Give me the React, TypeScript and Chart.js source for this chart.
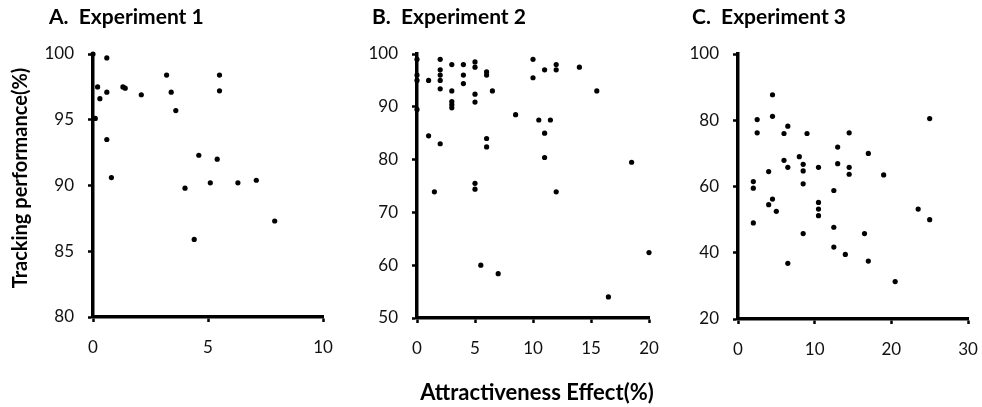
import React, { useEffect, useRef } from 'react';
import { Chart, registerables } from 'chart.js';
Chart.register(...registerables);

// ---- Data ----
const exp1X = [0, 0.6, 0.2, 0.3, 0.6, 0.1, 0.6, 0.8, 1.3, 1.4, 2.1, 3.2, 3.4, 3.6, 5.5, 5.5, 4.6, 5.4, 4.0, 5.1, 6.3, 7.1, 4.4, 7.9];
const exp1Y = [100, 99.7, 97.5, 96.6, 97.1, 95.1, 93.5, 90.6, 97.5, 97.4, 96.9, 98.4, 97.1, 95.7, 98.4, 97.2, 92.3, 92.0, 89.8, 90.2, 90.2, 90.4, 85.9, 87.3];

const exp2X = [0, 0, 0, 0, 1, 1, 1.5, 2, 2, 2, 2, 2, 2, 3, 3, 3, 3, 3, 4, 4, 4, 5, 5, 5, 5, 5, 5, 6, 6, 6, 6, 6.5, 8.5, 10, 10, 11, 10.5, 11, 11, 11.5, 12, 12, 12, 14, 15.5, 18.5, 5.5, 7, 16.5, 20];
const exp2Y = [99, 96, 95, 89.5, 95, 84.5, 73.9, 99, 97, 96, 95, 93.4, 83, 98, 93, 91, 90.4, 89.8, 98, 96, 94.4, 98.5, 97.5, 92.4, 90.9, 75.5, 74.4, 96.6, 96, 84, 82.4, 93, 88.5, 99, 95.5, 97, 87.5, 85, 80.4, 87.5, 98, 97, 73.9, 97.5, 93, 79.5, 60, 58.4, 54, 62.4];

const exp3X = [4.5, 4.5, 2.5, 2.5, 6.5, 6, 9, 14.5, 13, 17, 6, 8, 6.5, 8.5, 8.5, 10.5, 13, 14.5, 14.5, 19, 4, 2, 2, 8.5, 12.5, 25, 4, 4.5, 5, 2, 10.5, 10.5, 10.5, 8.5, 12.5, 12.5, 14, 16.5, 17, 6.5, 20.5, 23.5, 25];
const exp3Y = [87.7, 81.2, 80.2, 76.2, 78.2, 76, 76, 76.2, 71.9, 70, 67.9, 69, 65.8, 66.7, 64.7, 65.8, 66.9, 65.8, 63.7, 63.5, 64.5, 61.5, 59.5, 60.8, 58.8, 80.5, 54.5, 56.2, 52.5, 49, 55.2, 53.2, 51.2, 45.8, 47.7, 41.7, 39.5, 45.8, 37.5, 36.8, 31.3, 53.2, 50];

const panelTitles = ['A.  Experiment 1', 'B.  Experiment 2', 'C.  Experiment 3'];
const xRanges = [[0, 10, 5], [0, 20, 5], [0, 30, 10]];
const yRanges = [[80, 100, 5], [50, 100, 10], [20, 100, 20]];
const yAxisTitle = 'Tracking performance(%)';
const xAxisTitle = 'Attractiveness Effect(%)';

const H = 407;
const FONT = 'Lato, "Open Sans", sans-serif';

type PanelProps = {
  xs: number[]; ys: number[]; xr: number[]; yr: number[]; title: string;
  left: number; width: number; plotLeft: number; plotRight: number; plotBottom: number;
  titleX: number; yTitle?: string; yTitleX?: number; yTitleY?: number;
  xTitle?: string; xTitleX?: number; xTitleY?: number;
};

function Panel(p: PanelProps) {
  const ref = useRef<HTMLCanvasElement>(null);
  useEffect(() => {
    if (!ref.current) return;
    const textPlugin = {
      id: 'panelTexts',
      afterDraw(chart: any) {
        const ctx = chart.ctx;
        ctx.save();
        ctx.fillStyle = '#000';
        ctx.font = `bold 21px ${FONT}`;
        ctx.textAlign = 'left';
        ctx.textBaseline = 'alphabetic';
        ctx.fillText(p.title, p.titleX, 24);
        if (p.yTitle) {
          ctx.save();
          ctx.font = `bold 20px ${FONT}`;
          ctx.translate(p.yTitleX!, p.yTitleY!);
          ctx.rotate(-Math.PI / 2);
          ctx.textAlign = 'center';
          ctx.textBaseline = 'middle';
          ctx.fillText(p.yTitle, 0, 0);
          ctx.restore();
        }
        if (p.xTitle) {
          ctx.font = `bold 22px ${FONT}`;
          ctx.textAlign = 'center';
          ctx.textBaseline = 'alphabetic';
          ctx.fillText(p.xTitle, p.xTitleX!, p.xTitleY!);
        }
        ctx.restore();
      },
    };
    const axisCommon = {
      grid: { drawOnChartArea: false, drawTicks: true, tickLength: 5, tickWidth: 2.5, tickColor: '#000' },
      border: { display: true, color: '#000', width: 3.5 },
    };
    const chart = new Chart(ref.current, {
      type: 'scatter',
      data: {
        datasets: [{
          data: p.xs.map((x, i) => ({ x, y: p.ys[i] })),
          backgroundColor: '#000',
          borderColor: '#000',
          borderWidth: 0,
          pointRadius: 2.6,
          clip: false as any,
        }],
      },
      options: {
        animation: false,
        responsive: false,
        devicePixelRatio: 1,
        layout: { padding: { top: 54, left: 0, right: p.width - p.plotRight, bottom: 0 } },
        plugins: { legend: { display: false }, tooltip: { enabled: false }, title: { display: false } },
        scales: {
          x: {
            type: 'linear', position: 'bottom', min: p.xr[0], max: p.xr[1],
            ticks: { stepSize: p.xr[2], padding: 15, color: '#111', font: { family: FONT, size: 17 }, maxRotation: 0 },
            ...axisCommon,
            afterFit(s: any) { s.height = H - p.plotBottom; s.paddingLeft = 0; s.paddingRight = 0; },
          },
          y: {
            type: 'linear', position: 'left', min: p.yr[0], max: p.yr[1],
            ticks: { stepSize: p.yr[2], padding: 14, color: '#111', font: { family: FONT, size: 17 } },
            ...axisCommon,
            afterFit(s: any) { s.width = p.plotLeft; s.paddingTop = 0; s.paddingBottom = 0; },
          },
        },
      } as any,
      plugins: [textPlugin],
    });
    return () => chart.destroy();
  }, []);
  return (
    <canvas ref={ref} width={p.width} height={H}
      style={{ position: 'absolute', left: p.left, top: 0, width: p.width, height: H, display: 'block' }} />
  );
}

export default function App() {
  return (
    <div style={{ position: 'fixed', left: 0, top: 0, width: 982, height: H, background: '#fff', overflow: 'hidden' }}>
      <Panel xs={exp1X} ys={exp1Y} xr={xRanges[0]} yr={yRanges[0]} title={panelTitles[0]}
        left={0} width={345} plotLeft={93} plotRight={323} plotBottom={317} titleX={49}
        yTitle={yAxisTitle} yTitleX={21} yTitleY={178} />
      <Panel xs={exp2X} ys={exp2Y} xr={xRanges[1]} yr={yRanges[1]} title={panelTitles[1]}
        left={330} width={345} plotLeft={87} plotRight={319} plotBottom={318} titleX={42}
        xTitle={xAxisTitle} xTitleX={207} xTitleY={400} />
      <Panel xs={exp3X} ys={exp3Y} xr={xRanges[2]} yr={yRanges[2]} title={panelTitles[2]}
        left={660} width={322} plotLeft={78} plotRight={308} plotBottom={319} titleX={32} />
    </div>
  );
}
